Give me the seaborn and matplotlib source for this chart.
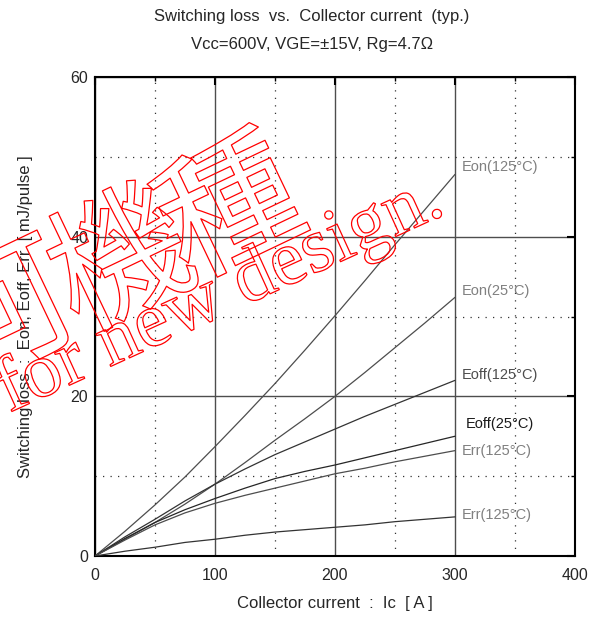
import numpy as np
import pandas as pd
import matplotlib
matplotlib.use("Agg")
import matplotlib.pyplot as plt
import matplotlib.patheffects as pe
from matplotlib.ticker import MultipleLocator
import seaborn as sns

# Data (Ic in A, loss in mJ/pulse)
ic = [0, 25, 50, 75, 100, 125, 150, 175, 200, 225, 250, 275, 300]
eon_125 = [0, 3.1, 6.4, 9.9, 13.7, 17.6, 21.6, 25.8, 30.1, 34.5, 39.0, 43.4, 47.8]
eon_25 = [0, 2.1, 4.2, 6.5, 9.0, 11.7, 14.5, 17.2, 20.0, 23.0, 26.1, 29.2, 32.4]
eoff_125 = [0, 2.4, 4.6, 6.9, 9.0, 10.9, 12.7, 14.3, 15.9, 17.5, 19.0, 20.5, 22.0]
eoff_25 = [0, 2.2, 4.2, 5.8, 7.2, 8.5, 9.7, 10.6, 11.4, 12.3, 13.2, 14.1, 15.0]
err_125 = [0, 2.0, 3.9, 5.4, 6.6, 7.6, 8.5, 9.4, 10.3, 11.0, 11.8, 12.5, 13.2]
err_low = [0, 0.6, 1.1, 1.7, 2.1, 2.6, 3.0, 3.3, 3.6, 3.9, 4.3, 4.6, 4.9]

curve_names = ["Eon(125°C)", "Eon(25°C)", "Eoff(125°C)", "Eoff(25°C)", "Err(125°C)", "Err(125°C) "]
curve_vals = [eon_125, eon_25, eoff_125, eoff_25, err_125, err_low]
label_y = [48.7, 33.2, 22.7, 16.5, 13.2, 5.1]
label_x = [305.8, 305.8, 305.8, 309, 305.8, 305.8]
line_colors = ["0.3", "0.3", "0.2", "0.15", "0.3", "0.2"]
text_colors = ["0.5", "0.5", "0.3", "0.1", "0.5", "0.5"]

df = pd.DataFrame({
    "ic": np.tile(ic, len(curve_names)),
    "loss": np.concatenate(curve_vals),
    "curve": np.repeat(curve_names, len(ic)),
})

sns.set_style("white")
plt.rcParams["font.family"] = ["Liberation Sans", "DejaVu Sans"]

fig = plt.figure(figsize=(6.08, 6.19), dpi=100)
ax = fig.add_axes([95 / 608, 1 - 556 / 619, 480 / 608, 479 / 619])

sns.lineplot(data=df, x="ic", y="loss", hue="curve", hue_order=curve_names,
             palette=dict(zip(curve_names, line_colors)), linewidth=0.9,
             legend=False, ax=ax, zorder=3)

for name, tx, ty, tc in zip(curve_names, label_x, label_y, text_colors):
    ax.text(tx, ty, name.strip(), fontsize=10.5, color=tc, va="center", ha="left", zorder=4)

ax.set_xlim(0, 400)
ax.set_ylim(0, 60)
ax.xaxis.set_major_locator(MultipleLocator(100))
ax.xaxis.set_minor_locator(MultipleLocator(50))
ax.yaxis.set_major_locator(MultipleLocator(20))
ax.yaxis.set_minor_locator(MultipleLocator(10))
ax.grid(which="major", color="0.3", linewidth=1.0, linestyle="-")
ax.grid(which="minor", color="0.2", linewidth=0.9, linestyle=(0, (1, 5)))
ax.set_axisbelow(True)
ax.tick_params(which="both", direction="in", top=True, right=True, labelsize=11.5, color="k")
ax.tick_params(axis="y", pad=5)
ax.tick_params(axis="x", pad=9)
ax.tick_params(which="major", length=6, width=1.5)
ax.tick_params(which="minor", length=3, width=1)
for s in ax.spines.values():
    s.set_color("k")
    s.set_linewidth(1.5)

ax.set_xlabel("Collector current  :  Ic  [ A ]", fontsize=12, labelpad=9)
ax.set_ylabel("Switching loss  :  Eon, Eoff, Err  [ mJ/pulse ]", fontsize=12)
ax.yaxis.set_label_coords((33 - 95) / 480, 0.5)

fig.text(312 / 608, 1 - 16 / 619, "Switching loss  vs.  Collector current  (typ.)",
         ha="center", va="center", fontsize=12)
fig.text(312 / 608, 1 - 45 / 619, "Vcc=600V, VGE=±15V, Rg=4.7Ω",
         ha="center", va="center", fontsize=12)

# red outlined watermark, one glyph at a time
outline = [pe.Stroke(linewidth=0.9, foreground="red")]
for ch, (px, py) in zip("可機種", [(10, 318), (123, 267), (232, 215)]):
    fig.text(px / 608, 1 - py / 619, ch, family=["Noto Sans CJK JP"], fontsize=100,
             color="none", rotation=25.5, rotation_mode="anchor", ha="center", va="center",
             path_effects=outline, zorder=10)
fig.text(228 / 608, 1 - 313 / 619, "for new design.", family=["Liberation Serif"], fontsize=56,
         color="none", rotation=24.5, rotation_mode="anchor", ha="center", va="baseline",
         path_effects=outline, zorder=10)

fig.savefig("out.png", dpi=100)
